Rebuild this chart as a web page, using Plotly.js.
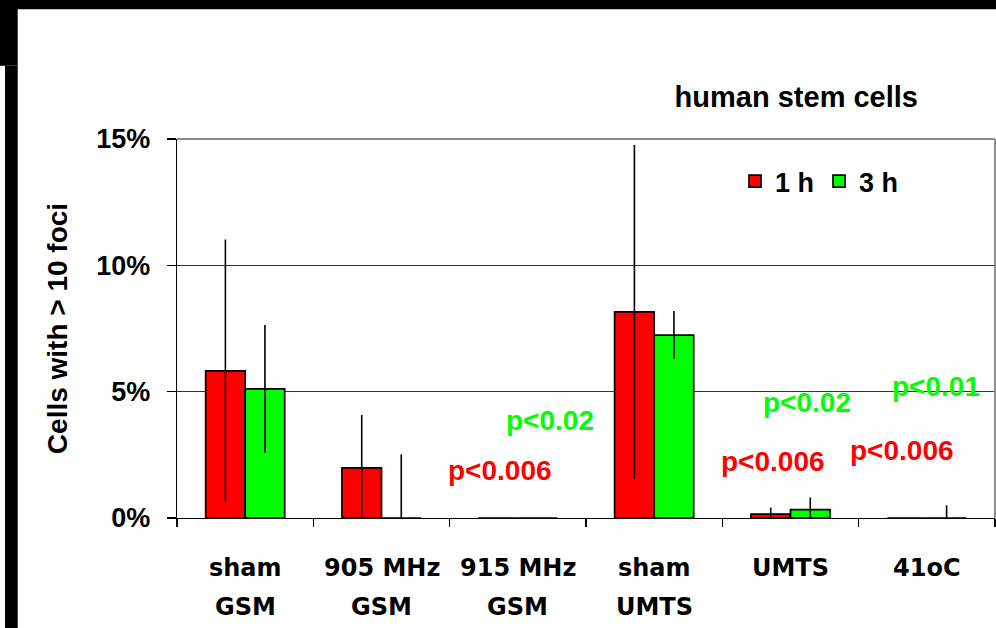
<!DOCTYPE html>
<html>
<head>
<meta charset="utf-8">
<script src="https://cdn.plot.ly/plotly-3.0.1.min.js"></script>
<style>
  html, body { margin: 0; padding: 0; background: #fff; }
  #chart { width: 996px; height: 628px; }
</style>
</head>
<body>
<div id="chart"></div>
<script>
// ---- data ----
const categories = ["sham GSM", "905 MHz GSM", "915 MHz GSM", "sham UMTS", "UMTS", "41oC"];
const labelLine1 = ["sham", "905 MHz", "915 MHz", "sham", "UMTS", "41oC"];
const labelLine2 = ["GSM", "GSM", "GSM", "UMTS", "", ""];
const series1Name = "1 h";
const series2Name = "3 h";
const values1h = [5.82, 1.98, 0, 8.16, 0.15, 0];
const values3h = [5.11, 0, 0, 7.24, 0.33, 0];
const err1h = [5.2, 2.1, 0, 6.6, 0.26, 0];
const err3h = [2.53, 2.52, 0, 0.95, 0.48, 0.5];
const pTexts = ["p<0.02", "p<0.006", "p<0.02", "p<0.006", "p<0.01", "p<0.006"];
const pSeries = ["3 h", "1 h", "3 h", "1 h", "3 h", "1 h"];
const yTickVals = [0, 5, 10, 15];
const yTickText = ["0%", "5%", "10%", "15%"];
const chartTitle = "human stem cells";
const yTitle = "Cells with > 10 foci";

// ---- styling / layout ----
const RED = "#ff0000", GREEN = "#00ff00";
const FONT = "Liberation Sans, Arial, Helvetica, sans-serif";
const CATFONT = "DejaVu Sans, Liberation Sans, Arial, sans-serif";
const pPos = [ // [paper x, data y]
  [0.4566, 3.87], [0.3949, 1.89], [0.7702, 4.56], [0.728, 2.23], [0.9273, 5.20], [0.8857, 2.68]
];

const minus = (v, e) => e.map((x, i) => Math.min(x, v[i]));

const traces = [
  {
    type: "bar", name: series1Name, x: categories, y: values1h,
    marker: { color: RED, line: { color: "#000", width: 1.7 } },
    error_y: { type: "data", symmetric: false, array: err1h, arrayminus: minus(values1h, err1h),
               color: "#000", thickness: 1.6, width: 0 }
  },
  {
    type: "bar", name: series2Name, x: categories, y: values3h,
    marker: { color: GREEN, line: { color: "#000", width: 1.7 } },
    error_y: { type: "data", symmetric: false, array: err3h, arrayminus: minus(values3h, err3h),
               color: "#000", thickness: 1.6, width: 0 }
  }
];

const px = v => (v - 177) / 818;
const py = v => (517.7 - v) / 378.7;

const annotations = [];
categories.forEach((c, i) => {
  annotations.push({ xref: "x", yref: "paper", x: c, y: py(568), yanchor: "middle", xanchor: "center",
    text: labelLine1[i], showarrow: false, font: { family: CATFONT, size: 24, weight: 700, color: "#000" } });
  if (labelLine2[i]) annotations.push({ xref: "x", yref: "paper", x: c, y: py(607), yanchor: "middle", xanchor: "center",
    text: labelLine2[i], showarrow: false, font: { family: CATFONT, size: 24, weight: 700, color: "#000" } });
});
pTexts.forEach((t, i) => {
  annotations.push({ xref: "paper", yref: "y", x: pPos[i][0], y: pPos[i][1], xanchor: "center", yanchor: "middle",
    text: t, showarrow: false,
    font: { family: FONT, size: 28, weight: 700, color: pSeries[i] === series1Name ? RED : GREEN } });
});

const shapes = [
  { type: "rect", xref: "paper", yref: "paper", x0: px(0), x1: px(996), y0: py(9.3), y1: py(0), fillcolor: "#000", line: { width: 0 } },
  { type: "rect", xref: "paper", yref: "paper", x0: px(0), x1: px(17.7), y0: py(65.7), y1: py(0), fillcolor: "#000", line: { width: 0 } },
  { type: "rect", xref: "paper", yref: "paper", x0: px(5), x1: px(17.7), y0: py(628), y1: py(65.7), fillcolor: "#000", line: { width: 0 } },
  { type: "line", xref: "paper", yref: "paper", x0: 0, x1: 1, y0: 1, y1: 1, line: { color: "#8c8c8c", width: 2 } },
  { type: "line", xref: "paper", yref: "paper", x0: 1, x1: 1, y0: 0, y1: 1, line: { color: "#8c8c8c", width: 2 } }
];

const layout = {
  width: 996, height: 628,
  margin: { l: 177, r: 1, t: 139, b: 110, autoexpand: false },
  paper_bgcolor: "#fff", plot_bgcolor: "#fff",
  font: { family: FONT, color: "#000" },
  title: { text: chartTitle, xref: "container", yref: "container", x: 0.7995, xanchor: "center",
           y: 1 - 97 / 628, yanchor: "middle", font: { family: FONT, size: 29, weight: 700, color: "#000" } },
  barmode: "group", bargap: 0.42, bargroupgap: 0,
  showlegend: true,
  legend: { orientation: "h", x: px(735), xanchor: "left", y: py(157), yanchor: "top",
            font: { family: FONT, size: 27, weight: 700, color: "#000" }, bgcolor: "rgba(0,0,0,0)",
            traceorder: "normal" },
  xaxis: { type: "category", showticklabels: false, showline: true, linecolor: "#000", linewidth: 1.3,
           ticks: "outside", tickson: "boundaries", ticklen: 8, tickcolor: "#000", tickwidth: 1.3,
           showgrid: false, zeroline: false, fixedrange: true },
  yaxis: { range: [0, 15], tickvals: yTickVals, ticktext: yTickText, showline: true, linecolor: "#000", linewidth: 1.3,
           ticks: "outside", ticklen: 9, tickcolor: "#000", tickwidth: 1.3, ticklabelstandoff: 11,
           tickfont: { family: FONT, size: 27, weight: 700, color: "#000" },
           showgrid: true, gridcolor: "#333", gridwidth: 1, zeroline: false, automargin: false,
           title: { text: yTitle, standoff: 20, font: { family: FONT, size: 28, weight: 700, color: "#000" } } },
  annotations: annotations,
  shapes: shapes
};

Plotly.newPlot("chart", traces, layout, { displayModeBar: false, staticPlot: true });
</script>
</body>
</html>
